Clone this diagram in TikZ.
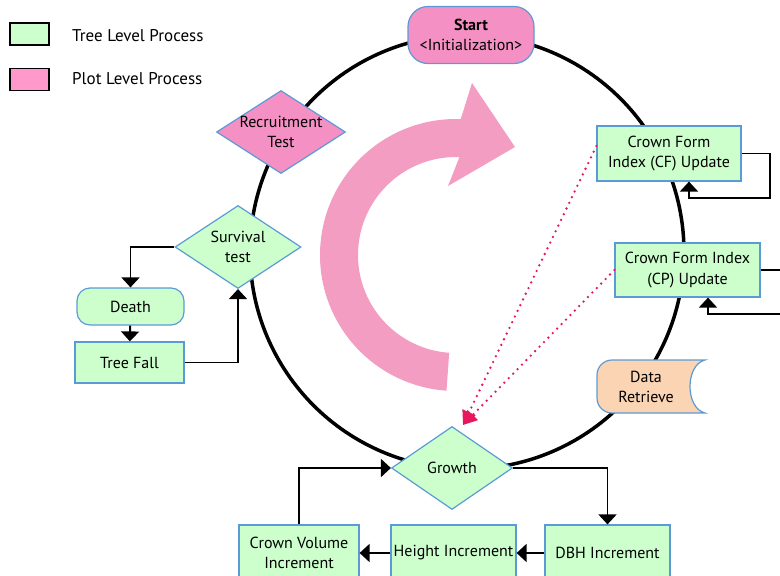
\documentclass[tikz,border=0pt]{standalone}
\usepackage{fontspec}
\setmainfont{PT Sans}
\usetikzlibrary{shapes.geometric,arrows.meta}
\definecolor{treegreen}{HTML}{CCFFCC}
\definecolor{plotpink}{HTML}{F590C4}
\definecolor{legpink}{HTML}{FF99CC}
\definecolor{edgeblue}{HTML}{5B9BD5}
\definecolor{peach}{HTML}{FBD4B4}
\definecolor{looppink}{HTML}{F39DC3}
\definecolor{crimson}{HTML}{E8175D}
\tikzset{
  gbox/.style={draw=edgeblue, line width=1.2pt, fill=treegreen, align=center, inner sep=0pt},
  pbox/.style={draw=edgeblue, line width=1.2pt, fill=plotpink, align=center, inner sep=0pt},
  gdiamond/.style={diamond, draw=edgeblue, line width=1.2pt, fill=treegreen, inner sep=0pt},
  pdiamond/.style={diamond, draw=edgeblue, line width=1.2pt, fill=plotpink, inner sep=0pt},
  txt/.style={align=center, inner sep=0pt},
  legtxt/.style={inner sep=0pt, anchor=west, font=\fontsize{17}{20}\selectfont},
  legbox/.style={draw=black, line width=1.3pt, inner sep=0pt, minimum width=39pt, minimum height=22pt},
  conn/.style={draw=black, line width=1.9pt, -{Triangle[length=10pt,width=18pt]}},
  plain/.style={draw=black, line width=1.9pt},
  dots/.style={draw=crimson, line width=2.6pt, line cap=round, dash pattern=on 0pt off 6.3pt,
    -{Triangle[length=14pt,width=14pt]}},
}
\begin{document}
\begin{tikzpicture}[x=1pt, y=-1pt, font=\fontsize{16}{20.5}\selectfont]
\useasboundingbox (0,0) rectangle (780,576);

% main cycle
\draw[line width=3.5pt] (467,252) circle[radius=217pt];

% large curved arrow in the middle
\fill[looppink] ([shift={(456,255)}] 266:136pt)
  arc[start angle=266, end angle=88, radius=136pt]
  -- (472,83) -- (515,147) -- (448,186)
  -- ([shift={(456,255)}] 88:98pt)
  arc[start angle=88, end angle=266, radius=98pt] -- cycle;

% legend
\node[legbox, fill=treegreen] (legG) at (29.5,34) {};
\node[legtxt] (legGt) at (72,36) {Tree Level Process};
\node[legbox, fill=legpink] (legP) at (29.5,79.5) {};
\node[legtxt] (legPt) at (72,79) {Plot Level Process};

% plot level processes
\node[pbox, rounded corners=20pt, minimum width=126pt, minimum height=57pt] (start) at (471,35)
  {\textbf{Start}\\<Initialization>};
\node[pdiamond, minimum width=129pt, minimum height=83pt] (recr) at (281,132) {};
\node[txt] (recrT) at (recr) {Recruitment\\Test};

% survival branch
\node[gdiamond, minimum width=126pt, minimum height=83pt] (surv) at (238,247) {};
\node[txt] (survT) at (surv) {Survival\\test};
\node[gbox, rounded corners=13pt, minimum width=107pt, minimum height=37pt] (death) at (130.5,306.5) {Death};
\node[gbox, minimum width=109pt, minimum height=41pt] (fall) at (129.5,362.5) {Tree Fall};

% crown form updates
\node[gbox, minimum width=144pt, minimum height=55pt] (cf) at (669,153.5) {Crown Form\\Index (CF) Update};
\node[gbox, minimum width=145pt, minimum height=54pt] (cp) at (687.5,270) {Crown Form Index\\(CP) Update};

% data retrieve
\draw[draw=edgeblue, line width=1.2pt, fill=peach]
  (705,360) -- (612,360) arc[start angle=90, end angle=180, radius=15pt]
  -- (597,398) arc[start angle=180, end angle=270, radius=15pt]
  -- (705,413) .. controls (685,408) and (685,365) .. (705,360) -- cycle;
\node[txt] (data) at (646,387) {Data\\Retrieve};

% growth branch
\node[gdiamond, minimum width=121pt, minimum height=83pt] (growth) at (452,468) {};
\node[txt] (growthT) at (growth) {Growth};
\node[gbox, minimum width=120pt, minimum height=56pt] (cvi) at (299,553) {Crown Volume\\Increment};
\node[gbox, minimum width=125pt, minimum height=56pt] (hi) at (453.5,553) {Height Increment};
\node[gbox, minimum width=125pt, minimum height=56pt] (dbh) at (607.5,553) {DBH Increment};

% connectors
\draw[conn] (surv.west) -| (death.north);
\draw[conn] (death) -- (fall);
\draw[conn] (fall.east) -| (surv.south);

\draw[conn] (growth.east) -| (dbh.north);
\draw[conn] (dbh) -- (hi);
\draw[conn] (hi) -- (cvi);
\draw[conn] (cvi.north) |- (growth.west);

\coordinate (cfLoop) at (770,198);
\draw[conn] (cf.east) -| (cfLoop) -| ([xshift=20pt]cf.south);
\coordinate (cpOut) at (782,270);
\draw[plain] (cp.east) -- (cpOut);
\coordinate (cpIn) at (782,314);
\draw[conn] (cpIn) -| ([xshift=20.5pt]cp.south);

% dotted links into growth
\coordinate (gTip) at (463,425);
\draw[dots] ([yshift=7.5pt]cf.west) -- (gTip);
\draw[dots] (cp.west) -- (gTip);
\end{tikzpicture}
\end{document}
